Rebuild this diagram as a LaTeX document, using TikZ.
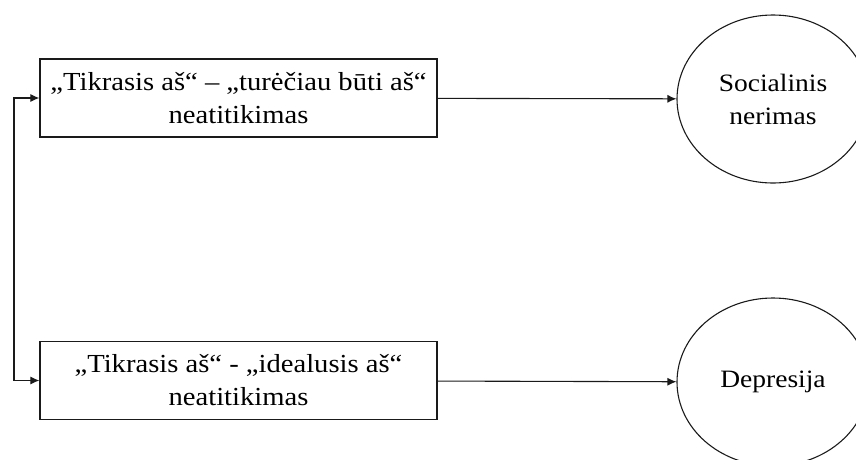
\documentclass[tikz,border=0pt]{standalone}
\usepackage{fontspec}
\setmainfont{Liberation Serif}[FakeStretch=1.1]
\usepackage{xcolor}
\usetikzlibrary{shapes.geometric,arrows.meta,positioning,calc}
\definecolor{ink}{HTML}{1A1A1A}
\tikzset{
  arr/.style={-{Latex[length=9pt,width=8pt]},line width=1.1pt,draw=ink},
  darr/.style={{Latex[length=9pt,width=8pt]}-{Latex[length=9pt,width=8pt]},line width=1.1pt,draw=ink},
  box/.style={rectangle,minimum width=397pt,minimum height=78pt,
    align=center,draw=ink,line width=1.2pt,font=\fontsize{26}{33}\selectfont},
  cbox/.style={ellipse,minimum width=192pt,minimum height=168pt,inner sep=0pt,
    align=center,draw=ink,line width=1.1pt,font=\fontsize{25}{33}\selectfont},
}
\begin{document}
\begin{tikzpicture}[x=1pt,y=-1pt]
\clip (0,0) rectangle (856,459);

\node[box] (real1) at (238.5,98) {„Tikrasis aš“ – „turėčiau būti aš“\\neatitikimas};
\node[box] (real2) at (238.5,380.5) {„Tikrasis aš“ - „idealusis aš“\\neatitikimas};
\node[cbox] (soc) at (773,99) {Socialinis\\nerimas};
\node[cbox] (dep) at (773,382) {Depresija};

\coordinate (side) at (14,240);

\draw[arr] (real1) -- (soc);
\draw[arr] (real2) -- (dep);
\draw[darr] (real1.west) -| (side) |- (real2.west);
\end{tikzpicture}
\end{document}
